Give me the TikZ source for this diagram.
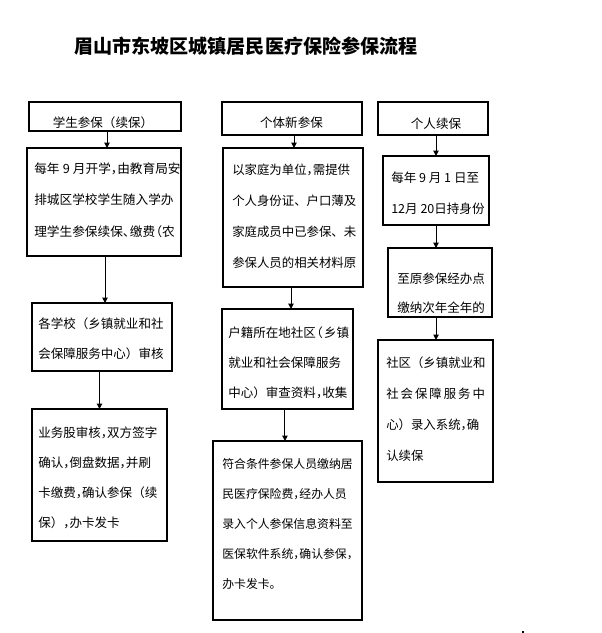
\documentclass[tikz,border=0pt]{standalone}
\usepackage{fontspec}
\setmainfont{Noto Sans CJK SC}
\usetikzlibrary{arrows.meta}
\newcommand\hc{\makebox[0.5em][l]{，}}
\newcommand\hd{\makebox[0.55em][l]{、}}
\newcommand\hp{\makebox[0.55em][r]{（}}
\newcommand\flowbox[5]{\node[fbox, minimum width={(#4-#2)*0.75pt}, minimum height={(#5-#3)*0.75pt}] (#1) at ({(#2+#4)/2},{(#3+#5)/2}) {};}
\newcommand\flowtext[6]{\foreach \mytext [count=\i] in {#6} {\node[ftxt, font=\fontsize{#5}{11pt}\selectfont] (#1\i) at (#2,{#3+(\i-1)*#4}) {\mytext};}}
\tikzset{
  fbox/.style={draw=black, line width=0.9pt, inner sep=0pt, outer sep=0pt, rectangle},
  ftxt/.style={anchor=west, inner sep=0pt, text height=0.88em, text depth=0.12em},
  ctxt/.style={anchor=center, inner sep=0pt, font=\fontsize{9.4pt}{11pt}\selectfont, text height=0.88em, text depth=0.12em},
  ttl/.style={anchor=center, inner sep=0pt, font=\fontsize{14.3pt}{16pt}\selectfont\bfseries, text height=0.88em, text depth=0.12em},
  arr/.style={draw=black, line width=0.75pt, -{Triangle[length=4pt,width=4pt]}}
}
\begin{document}
\begin{tikzpicture}[x=0.75pt,y=-0.75pt]
\useasboundingbox (0,0) rectangle (601,633);
\node[ttl] (T) at (246,48.5) {眉山市东坡区城镇居民医疗保险参保流程};
% column 1
\flowbox{A}{29}{102}{181}{131}
\flowbox{B}{27}{148}{181}{256}
\flowbox{C}{32}{303}{172}{371}
\flowbox{D}{32}{409}{167}{541}
% column 2
\flowbox{E}{222}{102}{362}{135}
\flowbox{F}{223}{148}{363}{287}
\flowbox{G}{222}{309}{353}{409}
\flowbox{H}{213}{441}{362}{620}
% column 3
\flowbox{I}{378}{102}{488}{135}
\flowbox{J}{383}{156}{489}{225}
\flowbox{K}{388}{248}{492}{317}
\flowbox{L}{378}{340}{493}{482}
% texts
\node[ctxt] (At) at (103,122) {学生参保（续保）};
\node[ctxt] (Et) at (291.5,122) {个体新参保};
\node[ctxt] (It) at (436,123) {个人续保};
\flowtext{Bt}{34}{168}{31.5}{9.5pt}{每年\hspace{0.25em}9\hspace{0.25em}月开学\hc 由教育局安, 排城区学校学生随入学办, 理学生参保续保\hd 缴费\hp 农}
\flowtext{Ct}{38}{323}{30}{9.4pt}{各学校（乡镇就业和社, 会保障服务中心）审核}
\flowtext{Dt}{38}{432}{30.3}{9.4pt}{业务股审核\hc 双方签字, 确认\hc 倒盘数据\hc 并刷, 卡缴费\hc 确认参保（续, 保）\hc 办卡发卡}
\flowtext{Ft}{232}{169}{31}{9.3pt}{以家庭为单位\hc 需提供, 个人身份证、户口薄及, 家庭成员中已参保、未, 参保人员的相关材料原}
\flowtext{Gt}{228}{332}{30}{9.4pt}{户籍所在地社区\hp\hspace{0.1em}乡镇, 就业和社会保障服务, 中心）审查资料\hc 收集}
\flowtext{Ht}{222}{463}{30}{8.9pt}{符合条件参保人员缴纳居, 民医疗保险费\hc 经办人员, 录入个人参保信息资料至, 医保软件系统\hc 确认参保\hc, 办卡发卡。}
\flowtext{Jt}{391}{177}{31}{9.4pt}{每年 9 月 1 日至, 12月 20日持身份}
\flowtext{Kt}{397}{278}{29}{9.4pt}{至原参保经办点, 缴纳次年全年的}
\flowtext{Lt}{386}{362}{31}{9.3pt}{社区（乡镇就业和, \makebox[74pt][s]{社 会 保 障 服 务 中}, 心）录入系统\hc 确, 认续保}
% arrows
\draw[arr] ([xshift=1.5pt]A.south) -- ([xshift=1.5pt]A.south |- B.north);
\draw[arr] ([xshift=0.75pt]B.south) -- ([xshift=0.75pt]B.south |- C.north);
\draw[arr] (D.north |- C.south) -- (D.north);
\draw[arr] ([xshift=1.5pt]E.south) -- ([xshift=1.5pt]E.south |- F.north);
\draw[arr] ([xshift=-1.5pt]F.south) -- ([xshift=-1.5pt]F.south |- G.north);
\draw[arr] ([xshift=-1.9pt]G.south) -- ([xshift=-1.9pt]G.south |- H.north);
\draw[arr] (J.north |- I.south) -- (J.north);
\draw[arr] ([xshift=-3pt]K.north |- J.south) -- ([xshift=-3pt]K.north);
\draw[arr] ([xshift=0.4pt]L.north |- K.south) -- ([xshift=0.4pt]L.north);
% stray dot
\fill[black] (522,630.5) rectangle (524,632.5);
\end{tikzpicture}
\end{document}
